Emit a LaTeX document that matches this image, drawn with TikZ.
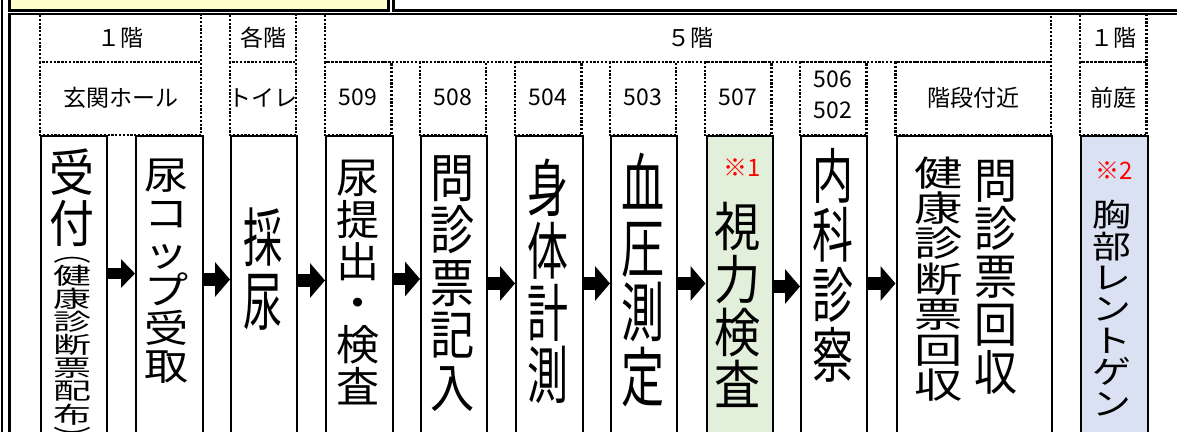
\documentclass[tikz,border=0pt]{standalone}
\usepackage{fontspec}
\setmainfont{Noto Sans CJK JP}
\usepackage{graphicx}
\usetikzlibrary{arrows.meta}
\definecolor{ylw}{HTML}{FFFFCC}
\definecolor{grn}{HTML}{E2EFDA}
\definecolor{blu}{HTML}{D9E1F2}
\definecolor{redtxt}{HTML}{FF0000}
\newcommand{\vtx}[4]{\scalebox{#1}[#2]{\fontsize{#3pt}{#3pt}\selectfont\vbox{\lineskiplimit=-100pt\halign{\hfil##\hfil\cr #4\cr}}}}
\begin{document}
\begin{tikzpicture}[x=1pt,y=-1pt,
  dotl/.style={line width=2.2pt, dash pattern=on 2.2pt off 1.6pt},
  stepbox/.style={draw, line width=2pt, anchor=north west, minimum height=330pt, inner sep=0pt},
  hdr/.style={font=\fontsize{23pt}{31pt}\selectfont, inner sep=0pt, align=center},
  vlab/.style={inner sep=0pt},
  note/.style={inner sep=0pt, text=redtxt, font=\fontsize{24pt}{24pt}\selectfont},
  flow/.style={line width=12.5pt, -{Triangle[length=15pt,width=34pt]}},
  frame/.style={line width=2.5pt},
]
\useasboundingbox (0,0) rectangle (1177,431);
\clip (0,0) rectangle (1177,431);
% top boxes and frame
\draw[line width=3pt, fill=ylw] (9.3,-10) rectangle (388.5,10.5);
\draw[line width=3pt, fill=white] (393.5,-10) rectangle (1195,10.5);
\draw[frame] (8,14.2) -- (1195,14.2);
\draw[frame] (9.3,13) -- (9.3,440);
\draw[line width=1.5pt] (1.8,-10) -- (1.8,440);
% floor header cells
\draw[dotl] (40,15) -- (40,62) -- (201,62) -- (201,15);
\draw[dotl] (230,15) -- (230,62) -- (296,62) -- (296,15);
\draw[dotl] (325,15) -- (325,62) -- (1051,62) -- (1051,15);
\draw[dotl] (1080,15) -- (1080,62) -- (1146.5,62) -- (1146.5,15);
\node[hdr] (f1) at (120,38) {１階};
\node[hdr] (f2) at (263,38) {各階};
\node[hdr] (f3) at (690,38) {５階};
\node[hdr] (f4) at (1113,38) {１階};
% room cells
\draw[dotl] (40,62) rectangle (201,135);
\draw[dotl] (230,62) rectangle (296,135);
\draw[dotl] (325,62) rectangle (391.5,135);
\draw[dotl] (420,62) rectangle (486,135);
\draw[dotl] (515,62) rectangle (581.5,135);
\draw[dotl] (610,62) rectangle (676,135);
\draw[dotl] (705,62) rectangle (771.5,135);
\draw[dotl] (800,62) rectangle (866.5,135);
\draw[dotl] (895.5,62) rectangle (1051,135);
\draw[dotl] (1080,62) rectangle (1146.5,135);
\node[hdr] (r1) at (121,97.5) {玄関ホール};
\node[hdr] (r2) at (263,97.5) {トイレ};
\node[hdr] (r3) at (358,97.5) {509};
\node[hdr] (r4) at (453,97.5) {508};
\node[hdr] (r5) at (548,97.5) {504};
\node[hdr] (r6) at (643,97.5) {503};
\node[hdr] (r7) at (738,97.5) {507};
\node[hdr, font=\fontsize{23pt}{31pt}\selectfont] (r8) at (833,95) {506\\502};
\node[hdr] (r9) at (973,97.5) {階段付近};
\node[hdr] (r10) at (1113,97.5) {前庭};
% step boxes
\node[stepbox, fill=white, minimum width=65.5pt] (b1) at (40,135) {};
\node[stepbox, fill=white, minimum width=66.5pt] (b2) at (135,135) {};
\node[stepbox, fill=white, minimum width=66pt] (b3) at (230,135) {};
\node[stepbox, fill=white, minimum width=66.5pt] (b4) at (325,135) {};
\node[stepbox, fill=white, minimum width=66pt] (b5) at (420,135) {};
\node[stepbox, fill=white, minimum width=66.5pt] (b6) at (515,135) {};
\node[stepbox, fill=white, minimum width=66pt] (b7) at (610,135) {};
\node[stepbox, fill=grn, minimum width=66pt] (b8) at (705.5,135) {};
\node[stepbox, fill=white, minimum width=66pt] (b9) at (800,135) {};
\node[stepbox, fill=white, minimum width=155.5pt] (b10) at (895.5,135) {};
\node[stepbox, fill=blu, minimum width=66.5pt] (b11) at (1080,135) {};
% texts in boxes
\node[vlab] (t1a) at (72,197.5) {\vtx{1.02}{1.15}{44}{受\cr 付}};
\node[vlab] (t1b) at (72,345) {\vtx{1.15}{0.7}{33}{\vphantom{健}︵\cr 健\cr 康\cr 診\cr 断\cr 票\cr 配\cr 布\cr \vphantom{健}︶}};
\node[vlab] (t2) at (167,271.5) {\vtx{1.05}{0.91}{42}{尿\cr コ\cr ッ\cr プ\cr 受\cr 取}};
\node[vlab] (t3) at (263,269.5) {\vtx{0.98}{1.6}{40}{採\cr 尿}};
\node[vlab] (t4) at (358,282.5) {\vtx{1.05}{1.02}{41}{尿\cr 提\cr 出\cr ・\cr 検\cr 査}};
\node[vlab] (t5) at (453,283.5) {\vtx{1.05}{1.25}{42}{問\cr 診\cr 票\cr 記\cr 入}};
\node[vlab] (t6) at (548,281.5) {\vtx{1.05}{1.6}{39}{身\cr 体\cr 計\cr 測}};
\node[vlab] (t7) at (643,280) {\vtx{1.05}{1.58}{41}{血\cr 圧\cr 測\cr 定}};
\node[note] (n1) at (742,168) {※1};
\node[vlab] (t8) at (738,305) {\vtx{1.05}{1.2}{44}{視\cr 力\cr 検\cr 査}};
\node[vlab] (t9) at (833,265) {\vtx{1.05}{1.53}{39}{内\cr 科\cr 診\cr 察}};
\node[vlab] (t10a) at (996,277.5) {\vtx{1.05}{1.17}{41}{問\cr 診\cr 票\cr 回\cr 収}};
\node[vlab] (t10b) at (939,279) {\vtx{1.05}{0.77}{46}{健\cr 康\cr 診\cr 断\cr 票\cr 回\cr 収}};
\node[note] (n2) at (1114,171) {※2};
\node[vlab] (t11) at (1112,308) {\vtx{1.05}{0.85}{37}{胸\cr 部\cr レ\cr ン\cr ト\cr ゲ\cr ン}};
% arrows
\draw[line width=11pt, -{Triangle[length=14pt,width=28pt]}] ([yshift=-138.5pt]b1.north east) -- ([yshift=-138.5pt]b2.north west);
\draw[flow] ([yshift=-144.5pt]b2.north east) -- ([yshift=-144.5pt]b3.north west);
\draw[flow] ([yshift=-145.5pt]b3.north east) -- ([yshift=-145.5pt]b4.north west);
\draw[flow] ([yshift=-144pt]b4.north east) -- ([yshift=-144pt]b5.north west);
\draw[flow] ([yshift=-148.5pt]b5.north east) -- ([yshift=-148.5pt]b6.north west);
\draw[flow] ([yshift=-148.5pt]b6.north east) -- ([yshift=-148.5pt]b7.north west);
\draw[flow] ([yshift=-148.5pt]b7.north east) -- ([yshift=-148.5pt]b8.north west);
\draw[flow] ([yshift=-151.5pt]b8.north east) -- ([yshift=-151.5pt]b9.north west);
\draw[flow] ([yshift=-148.5pt]b9.north east) -- ([yshift=-148.5pt]b10.north west);
\end{tikzpicture}
\end{document}
